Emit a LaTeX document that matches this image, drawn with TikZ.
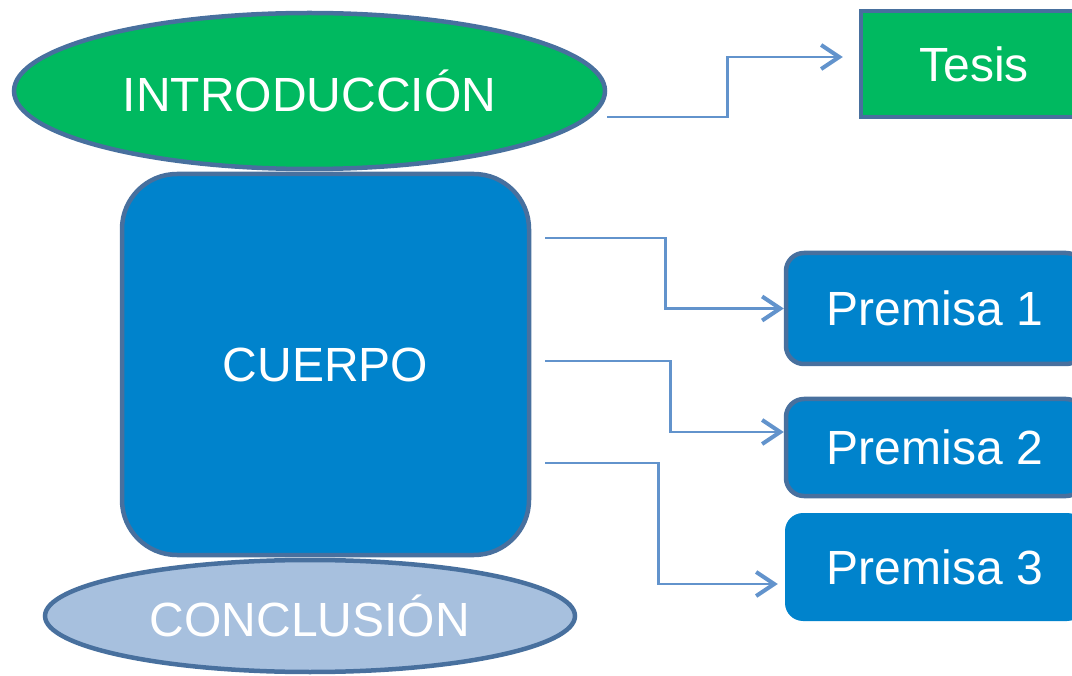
\documentclass[tikz,border=0pt]{standalone}
\usepackage{fontspec}
\setmainfont{Liberation Sans}
\usetikzlibrary{shapes.geometric,arrows.meta}
\definecolor{cgreen}{RGB}{0,185,96}
\definecolor{cblue}{RGB}{0,131,204}
\definecolor{clight}{RGB}{167,192,222}
\definecolor{cborder}{RGB}{72,112,158}
\definecolor{cline}{RGB}{98,147,204}
\tikzset{
  lbl/.style={text=white,font=\fontsize{48}{57}\selectfont,inner sep=0pt},
  ovalbox/.style={lbl,ellipse,draw=cborder,line width=4.5pt},
  roundbox/.style={lbl,rectangle,rounded corners=18pt,fill=cblue,draw=cborder,line width=4.5pt},
  conn/.style={draw=cline,line width=2.6pt,-{Straight Barb[length=18pt,width=24pt,line width=4pt]}}
}
\begin{document}
\begin{tikzpicture}[x=1pt,y=-1pt]
\useasboundingbox (0,0) rectangle (1072,676);
\clip (0,0) rectangle (1072,676);
\node[lbl,rectangle,rounded corners=55pt,fill=cblue,draw=cborder,line width=4.5pt,
  minimum width=407pt,minimum height=381pt] (cuerpo) at (325.5,364.5) {CUERPO};
\node[ovalbox,fill=cgreen,minimum width=591pt,minimum height=156pt] (intro) at (309.5,91) {INTRODUCCIÓN};
\node[ovalbox,fill=clight,minimum width=530pt,minimum height=112pt] (concl) at (310,616) {CONCLUSIÓN};
\node[lbl,rectangle,fill=cgreen,draw=cborder,line width=4.5pt,minimum width=226pt,minimum height=106pt] (tesis) at (974,64) {Tesis};
\node[roundbox,minimum width=298pt,minimum height=111pt] (p1) at (935,308.5) {Premisa 1};
\node[roundbox,minimum width=298pt,minimum height=97pt] (p2) at (935,447.5) {Premisa 2};
\node[roundbox,draw=none,minimum width=300pt,minimum height=108pt] (p3) at (935,567) {Premisa 3};
\draw[conn] ([yshift=-26pt]intro.east) -- ++(120,0) |- ([xshift=-16pt,yshift=7pt]tesis.west);
\draw[conn] ([xshift=14pt,yshift=126.5pt]cuerpo.east) -- ++(120,0) |- (p1.west);
\draw[conn] ([xshift=14pt,yshift=3.5pt]cuerpo.east) -- ++(125,0) |- ([yshift=15.5pt]p2.west);
\draw[conn] ([xshift=14pt,yshift=-98.5pt]cuerpo.east) -- ++(113,0) |- ([xshift=-5pt,yshift=-17pt]p3.west);
\end{tikzpicture}
\end{document}
